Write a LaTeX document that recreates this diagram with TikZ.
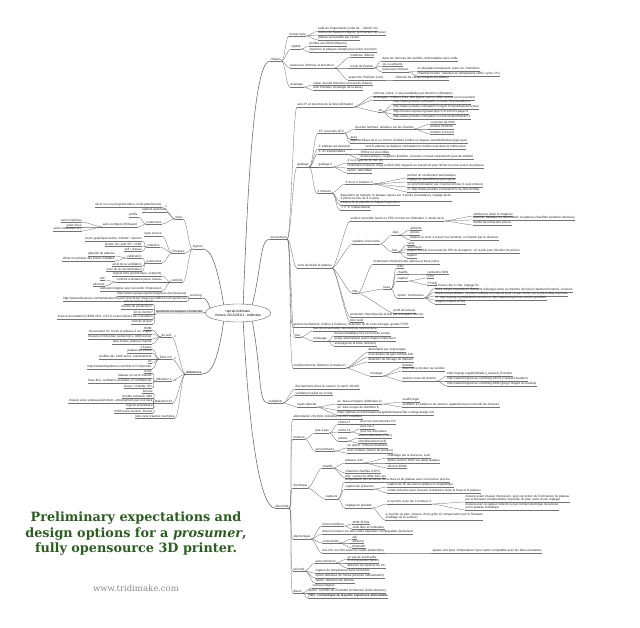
\documentclass[tikz,border=0pt]{standalone}
\usepackage{fontspec}
\setmainfont{Liberation Sans}
\newfontfamily\titlefont{DejaVu Serif}
\usetikzlibrary{shapes.geometric}
\definecolor{titlegreen}{HTML}{2A5E1E}
\newcommand\mmfont{\fontsize{3.1}{3.7}\selectfont}
\newcommand\RN[4]{\node[txt,anchor=south west] (#1) at (#2,#3) {#4}; \draw[ul] (#1.south west) -- (#1.south east);}
\newcommand\LN[4]{\node[txt,anchor=south east] (#1) at (#2,#3) {#4}; \draw[ul] (#1.south west) -- (#1.south east);}
\newcommand\RE[2]{\draw[edge] (#1.south east) .. controls +(4,0) and +(-4,0) .. (#2.south west);}
\newcommand\LE[2]{\draw[edge] (#1.south west) .. controls +(-4,0) and +(4,0) .. (#2.south east);}
\tikzset{
 txt/.style={inner xsep=0.3pt, inner ysep=0.4pt, font=\mmfont, text=black!85, align=left},
 edge/.style={draw=black!60, line width=0.3pt},
 ul/.style={draw=black!55, line width=0.3pt},
 rootedge/.style={draw=black!60, line width=0.55pt},
 redmark/.style={fill=red!80!black, inner sep=0, minimum size=1.2pt, circle},
}
\begin{document}
\begin{tikzpicture}[x=1pt,y=-1pt]
\useasboundingbox (0,0) rectangle (640,628);
\fill[white] (0,0) rectangle (640,628);

% ROOT
\node[draw=black!60, ellipse, minimum width=56pt, minimum height=18pt, inner sep=0, font=\fontsize{3.4}{4.2}\selectfont, align=center] (root) at (238,313) {reprap tridimake\\Version 2013.08.01 - tridimake};

% ================= CHASSIS
\RN{C0}{270}{61}{châssis}
\RN{C1}{289}{36}{format cube}
\RN{C1a}{318}{31}{taille de l'imprimante (cube de \textasciitilde{} 40x40 cm)}
\RN{C1b}{318}{35}{bobine de filament intégrée (à l'intérieur du cube)}
\RN{C1c}{318}{40}{plateau accessible par l'avant}
\RN{C2}{291}{49}{rigidité}
\RN{C2a}{309}{46}{profilés alu 20x20 (Misumi)}
\RN{C2b}{309}{52}{équerres et plaques d'angle pour éviter la torsion}
\RN{C3}{290}{68}{panneaux (formes) et fermeture}
\RN{C3a}{350}{57}{matériau: dibond}
\RN{C3b}{350}{68}{mode de fixation}
\RN{C3ba}{382}{61}{dans les rainures des profilés, démontables sans outils}
\RN{C3bb}{382}{66}{vis ou aimants}
\RN{C3bc}{382}{72}{panneaux frontaux}
\RN{C3bca}{417}{71}{en plexiglas transparent, porte sur charnières}
\RN{C3bcb}{417}{76}{chambre fermée: maintien en température (ABS, nylon, PC)}
\RN{C3c}{348}{80}{aspect de l'intérieur (noir)}
\RN{C3ca}{395}{80}{chemins de câbles intégrés (invisibles)}
\RN{C4}{290}{87}{éclairage}
\RN{C4a}{313}{85}{ruban de leds blanches en haut du châssis}
\RN{C4b}{313}{90}{leds frontales (éclairage de la buse)}
\RE{C0}{C1}\RE{C0}{C2}\RE{C0}{C3}\RE{C0}{C4}
\RE{C1}{C1a}\RE{C1}{C1b}\RE{C1}{C1c}
\RE{C2}{C2a}\RE{C2}{C2b}
\RE{C3}{C3a}\RE{C3}{C3b}\RE{C3}{C3c}
\RE{C3b}{C3ba}\RE{C3b}{C3bb}\RE{C3b}{C3bc}
\RE{C3bc}{C3bca}\RE{C3bc}{C3bcb}\RE{C3c}{C3ca}
\RE{C4}{C4a}\RE{C4}{C4b}

% ================= MOUVEMENT
\RN{M0}{270}{239}{mouvement}
\RN{M1}{297}{107}{axe XY et structure de la tête (Ultimaker)}
\RN{M1a}{373}{96}{schéma croisé: 2 axes parallèles par direction (Ultimaker)}
\RN{M1b}{373}{100}{avantages: moteurs fixes, tête légère, aucun câble moteur en mouvement}
\RN{M1c}{378}{112}{alt}
\RN{M1ca}{393}{104}{http://www.youtube.com/watch?v=Cw0L7RXx4wo\&hd=1}
\RN{M1cb}{393}{109}{http://www.youtube.com/watch?v=4jyXrTGlVjs\&feature=fvwrel}
\RN{M1cc}{393}{114}{http://forums.reprap.org/read.php?178,126703,page=3}
\RN{M1cd}{393}{119}{http://www.youtube.com/watch?v=Lb7hsKr6mKE\&NR=1}
\RE{M1}{M1a}\RE{M1}{M1b}\RE{M1}{M1c}
\RE{M1c}{M1ca}\RE{M1c}{M1cb}\RE{M1c}{M1cc}\RE{M1c}{M1cd}

\RN{M2}{297}{167}{guidage}
\RN{M2a}{318}{133}{XY: courroies GT2}
\RN{M2aa}{355}{129}{boucles fermées, tendeurs sur les chariots}
\RN{M2aaa}{430}{124}{courroies de 6mm}
\RN{M2aab}{430}{129}{poulies 20 dents}
\RN{M2aac}{430}{134}{tendeur à ressort}
\RN{M2ab}{350}{139}{axes}
\RN{M2ac}{350}{143}{tiges rectifiées de 8 ou 10 mm, douilles à billes ou bagues autolubrifiantes (type igus)}
\RN{M2b}{318}{149}{Z: plateau qui descend}
\RN{M2ba}{365}{149}{seul le plateau se déplace verticalement, la tête reste dans le même plan}
\RN{M2c}{318}{154}{Z: vis trapézoïdales}
\RN{M2ca}{360}{154}{TR8x2 ou vis à billes}
\RN{M2cb}{360}{159}{écrous anti-jeu, coupleurs flexibles, vis tenue en haut uniquement (pas de wobble)}
\RN{M2d}{318}{167}{guidage Z}
\RN{M2da}{347}{163}{2 ou 4 tiges de 12 mm (Z)}
\RN{M2db}{347}{168}{roulements linéaires longs (LM12LUU) espacés au maximum pour limiter le porte-à-faux du plateau}
\RN{M2dc}{347}{173}{option: rails MGN}
\RN{M2e}{317}{193}{3 moteurs}
\RN{M2ea}{345}{184}{3 vis et 3 moteurs Z}
\RN{M2eaa}{407}{178}{permet un nivellement automatique}
\RN{M2eab}{407}{182}{réglage du parallélisme par logiciel}
\RN{M2eac}{407}{187}{ou synchronisation par courroie fermée (1 seul moteur)}
\RN{M2ead}{407}{192}{cf. http://www.youtube.com/watch?v=nLJzAL9V2Wg}
\RN{M2eb}{340}{201}{disposition en triangle: le plateau repose sur 3 points (isostatique), réglage facile\\3 points au lieu de 4 ou plus}
\RN{M2ec}{340}{205}{mesure de la planéité à chaque impression}
\RN{M2ed}{340}{210}{-> 3 "Z" indépendants}
\RE{M2}{M2a}\RE{M2}{M2b}\RE{M2}{M2c}\RE{M2}{M2d}\RE{M2}{M2e}
\RE{M2a}{M2aa}\RE{M2a}{M2ab}\RE{M2a}{M2ac}
\RE{M2aa}{M2aaa}\RE{M2aa}{M2aab}\RE{M2aa}{M2aac}
\RE{M2b}{M2ba}\RE{M2c}{M2ca}\RE{M2c}{M2cb}
\RE{M2d}{M2da}\RE{M2d}{M2db}\RE{M2d}{M2dc}
\RE{M2e}{M2ea}\RE{M2e}{M2eb}\RE{M2e}{M2ec}\RE{M2e}{M2ed}
\RE{M2ea}{M2eaa}\RE{M2ea}{M2eab}\RE{M2ea}{M2eac}\RE{M2ea}{M2ead}

\RN{M3}{297}{268}{zone de dépôt et plateau}
\RN{M3a}{350}{221}{surface amovible (verre ou PEI) comme sur Ultimaker 2, étude de la}
\RN{M3aa}{473}{216}{adhérence selon le matériau}
\RN{M3ab}{473}{220}{planéité, dilatation et déformation du plateau chauffant (isolation dessous)}
\RN{M3ac}{473}{225}{facilité de retrait des pièces}
\RN{M3b}{352}{244}{système d'accroche}
\RN{M3ba}{392}{235}{clips}
\RN{M3baa}{410}{230}{aimants}
\RN{M3bab}{410}{235}{pinces}
\RN{M3bac}{410}{240}{plaque en acier à ressort sur aimants, ou fixation par le dessous}
\RN{M3bb}{392}{252}{bac}
\RN{M3bba}{407}{245}{verre}
\RN{M3bbb}{407}{249}{aluminium}
\RN{M3bbc}{407}{253}{plaque flexible recouverte de PEI ou de kapton: on la plie pour décoller les pièces}
\RN{M3bbd}{407}{258}{kapton}
\RN{M3c}{352}{293}{tête}
\RN{M3ca}{373}{264}{écartement minimal entre plateau et buse (zéro)}
\RN{M3cb}{383}{289}{buse}
\RN{M3cba}{397}{268}{E3D}
\RN{M3cbb}{397}{274}{chauffe}
\RN{M3cbba}{427}{274}{cartouche 40W}
\RN{M3cbc}{397}{281}{capteur}
\RN{M3cbca}{427}{278}{CTN}
\RN{M3cbcb}{427}{285}{PT100}
\RN{M3cbd}{397}{298}{option: multi-buses}
\RN{M3cbda}{435}{288}{2 buses côte à côte, réglage fin}
\RN{M3cbdb}{435}{292}{buse unique et plusieurs filaments mélangés dans la chambre de fusion (diamond hotend), couleurs}
\RN{M3cbdc}{435}{296}{buses escamotables: la buse inutilisée est relevée pour ne pas frotter sur la pièce déjà imprimée}
\RN{M3cbdd}{435}{300}{cf. http://reprap.org/wiki/Multi-extruder et http://www.thingiverse.com/thing:29846}
\RN{M3cbde}{435}{304}{support soluble (PVA)}
\RN{M3cc}{393}{313}{profil de la buse}
\RN{M3d}{350}{317}{protection thermique de la tête par une gaine silicone}
\RN{M3e}{350}{322}{bloc isolé}
\RE{M3}{M3a}\RE{M3}{M3b}\RE{M3}{M3c}\RE{M3}{M3d}\RE{M3}{M3e}
\RE{M3a}{M3aa}\RE{M3a}{M3ab}\RE{M3a}{M3ac}
\RE{M3b}{M3ba}\RE{M3b}{M3bb}
\RE{M3ba}{M3baa}\RE{M3ba}{M3bab}\RE{M3ba}{M3bac}
\RE{M3bb}{M3bba}\RE{M3bb}{M3bbb}\RE{M3bb}{M3bbc}\RE{M3bb}{M3bbd}
\RE{M3c}{M3ca}\RE{M3c}{M3cb}\RE{M3c}{M3cc}
\RE{M3cb}{M3cba}\RE{M3cb}{M3cbb}\RE{M3cb}{M3cbc}\RE{M3cb}{M3cbd}
\RE{M3cbb}{M3cbba}\RE{M3cbc}{M3cbca}\RE{M3cbc}{M3cbcb}
\RE{M3cbd}{M3cbda}\RE{M3cbd}{M3cbdb}\RE{M3cbd}{M3cbdc}\RE{M3cbd}{M3cbdd}\RE{M3cbd}{M3cbde}

\RN{M4}{293}{327}{gestion du filament: bobine à l'intérieur, détection de fin et de blocage, guides PTFE}
\RN{M5}{295}{337}{bac}
\RN{M5a}{313}{331}{bac de récupération des déchets sous la buse}
\RN{M5b}{313}{341}{nettoyage}
\RN{M5ba}{334}{336}{brosse métallique fixe en bout de course}
\RN{M5bb}{334}{341}{purge automatique avant chaque impression}
\RN{M5bc}{334}{346}{essuyage de la buse (silicone)}
\RE{M5}{M5a}\RE{M5}{M5b}\RE{M5b}{M5ba}\RE{M5b}{M5bb}\RE{M5b}{M5bc}

\RN{M7}{293}{368}{entraînement du filament ("extrudeur")}
\RN{M7a}{368}{352}{démultiplié par engrenages}
\RN{M7b}{368}{357}{roue dentée de type hobbed bolt}
\RN{M7c}{368}{362}{détection de blocage du filament}
\RN{M7d}{370}{376}{montage}
\RN{M7da}{402}{367}{bowden}
\RN{M7db}{402}{371}{direct drive (moteur sur la tête)}
\RN{M7dc}{402}{381}{options roues de tension}
\RN{M7dca}{447}{376}{http://reprap.org/wiki/Wade's\_Geared\_Extruder}
\RN{M7dcb}{447}{381}{http://www.thingiverse.com/thing:18379 (compact bowden)}
\RN{M7dcc}{447}{386}{http://www.thingiverse.com/thing:4305 (greg's hinged accessible)}
\RE{M7}{M7a}\RE{M7}{M7b}\RE{M7}{M7c}\RE{M7}{M7d}
\RE{M7d}{M7da}\RE{M7d}{M7db}\RE{M7d}{M7dc}
\RE{M7dc}{M7dca}\RE{M7dc}{M7dcb}\RE{M7dc}{M7dcc}

\RE{M0}{M1}\RE{M0}{M2}\RE{M0}{M3}\RE{M0}{M4}\RE{M0}{M5}\RE{M0}{M7}

% ================= VENTILATION
\RN{V0}{268}{403}{ventilation}
\RN{V1}{295}{389}{flux laminaire dans le caisson (2 ventil. 40x10)}
\RN{V2}{295}{395}{ventilateur radial sur la tête}
\RN{V3}{297}{407}{tuyau déporté}
\RN{V3a}{337}{404}{ex: buse annulaire (Ultimaker 2)}
\RN{V3aa}{402}{402}{souffle léger}
\RN{V3ab}{402}{407}{soufflerie à l'extérieur du caisson, également pour refroidir les moteurs}
\RN{V3b}{337}{410}{ex: tube souple de diamètre 8}
\RN{V3c}{337}{415}{https://github.com/tridimake/reprap/blob/master/fan-cooling-design.md}
\RE{V0}{V1}\RE{V0}{V2}\RE{V0}{V3}
\RE{V3}{V3a}\RE{V3}{V3b}\RE{V3}{V3c}\RE{V3a}{V3aa}\RE{V3a}{V3ab}

% ================= ELECTRICITE
\RN{E0}{275}{508}{électricité}
\RN{E1}{293}{419}{alimentation 24V (bloc industriel ou ATX modifiée)}
\RN{E2}{293}{439}{moteurs}
\RN{E2a}{315}{433}{pas à pas}
\RN{E2aa}{338}{424}{nema 17}
\RN{E2aaa}{360}{424}{pour les mouvements X/Y}
\RN{E2ab}{338}{432}{nema 14}
\RN{E2aba}{360}{429}{pour les Z}
\RN{E2abb}{360}{434}{pour les extrudeurs}
\RN{E2ac}{338}{441}{pilotes}
\RN{E2aca}{358}{438}{drivers silencieux (TMC)}
\RN{E2acb}{358}{443}{refroidissement actif}
\RN{E2b}{315}{451}{servomoteurs}
\RN{E2ba}{347}{448}{en option: moteurs brushless}
\RN{E2bb}{347}{453}{avec codeurs (retour de position)}
\RE{E2}{E2a}\RE{E2}{E2b}
\RE{E2a}{E2aa}\RE{E2a}{E2ab}\RE{E2a}{E2ac}
\RE{E2aa}{E2aaa}\RE{E2ab}{E2aba}\RE{E2ab}{E2abb}\RE{E2ac}{E2aca}\RE{E2ac}{E2acb}
\RE{E2b}{E2ba}\RE{E2b}{E2bb}

\RN{E3}{293}{488}{thermique}
\RN{E3a}{322}{468}{chauffe}
\RN{E3aa}{345}{463}{plateau: 24V}
\RN{E3aaa}{387}{458}{chauffage par le dessous, isolé}
\RN{E3aab}{387}{463}{option secteur 220V via relais statique}
\RN{E3aac}{387}{468}{silicone 400W}
\RN{E3ab}{345}{473}{chambre chauffée à 50°C}
\RN{E3ac}{345}{478}{tête: cartouche 40W, bloc alu}
\RN{E3b}{325}{499}{capteurs}
\RN{E3ba}{345}{482}{température de l'enceinte, de la buse et du plateau avec une lecture précise}
\RN{E3bb}{345}{489}{capteur de présence}
\RN{E3bba}{387}{487}{capteur de fin de course optique ou magnétique}
\RN{E3bbb}{387}{493}{sonde inductive pour mesurer la distance entre la buse et le plateau}
\RN{E3bc}{345}{508}{réglage de planéité}
\RN{E3bca}{387}{504}{à 3 points, avec les 3 moteurs Z}
\RN{E3bcaa}{465}{502}{mesure avant chaque impression, puis correction de l'inclinaison du plateau\\par le firmware (compensation logicielle du plan, sans vis de réglage)}
\RN{E3bcab}{465}{510}{mesure avec le capteur inductif ou par contact électrique de la buse\\sur le plateau métallique}
\RN{E3bcb}{385}{520}{à 4 points ou plus: mesure d'une grille et compensation par le firmware\\(maillage de la surface)}
\RE{E3}{E3a}\RE{E3}{E3b}
\RE{E3a}{E3aa}\RE{E3a}{E3ab}\RE{E3a}{E3ac}
\RE{E3aa}{E3aaa}\RE{E3aa}{E3aab}\RE{E3aa}{E3aac}
\RE{E3b}{E3ba}\RE{E3b}{E3bb}\RE{E3b}{E3bc}
\RE{E3bb}{E3bba}\RE{E3bb}{E3bbb}
\RE{E3bc}{E3bca}\RE{E3bc}{E3bcb}\RE{E3bca}{E3bcaa}\RE{E3bca}{E3bcab}

\RN{E4}{293}{539}{électronique}
\RN{E4a}{322}{526}{microcontrôleur}
\RN{E4aa}{352}{524}{ARM 32 bits}
\RN{E4ab}{352}{529}{carte libre et modulaire}
\RN{E4b}{322}{534}{drivers moteurs sur des cartes séparées, remplaçables facilement}
\RN{E4c}{322}{543}{connectivité}
\RN{E4ca}{352}{539}{wifi}
\RN{E4cb}{352}{543}{ethernet}
\RN{E4cc}{352}{548}{bluetooth}
\RN{E4d}{322}{553}{bus I2C ou CAN entre les cartes (extensible)}
\RN{E4da}{432}{553}{ajouter une ligne "température" pour rester compatible avec les têtes existantes}
\RE{E4}{E4a}\RE{E4}{E4b}\RE{E4}{E4c}\RE{E4}{E4d}
\RE{E4a}{E4aa}\RE{E4a}{E4ab}\RE{E4c}{E4ca}\RE{E4c}{E4cb}\RE{E4c}{E4cc}\RE{E4d}{E4da}

\RN{E5}{293}{571}{sécurité}
\RN{E5a}{315}{563}{auto extinction}
\RN{E5aa}{347}{559}{en cas de surchauffe}
\RN{E5ab}{347}{563}{fin d'impression (timer)}
\RN{E5ac}{347}{568}{absence de réponse du PC}
\RN{E5b}{315}{573}{capteur de température dans l'enceinte}
\RN{E5c}{315}{578}{option détecteur de fumée (arrêt de l'alimentation)}
\RN{E5d}{315}{583}{option: détecteur de flamme}
\RE{E5}{E5a}\RE{E5}{E5b}\RE{E5}{E5c}\RE{E5}{E5d}
\RE{E5a}{E5aa}\RE{E5a}{E5ab}\RE{E5a}{E5ac}

\RN{E6}{293}{593}{divers}
\RN{E6a}{312}{588}{caméra intégrée}
\RN{E6b}{308}{593}{option: contrôle de l'humidité du filament (boîte étanche)}
\node[txt,anchor=south west,font=\mmfont\bfseries] (E6c) at (308,598) {[TR] : connectique de la partie supérieure démontable};
\draw[ul] (E6c.south west) -- (E6c.south east);
\RE{E6}{E6a}\RE{E6}{E6b}\RE{E6}{E6c}

\RE{E0}{E1}\RE{E0}{E2}\RE{E0}{E3}\RE{E0}{E4}\RE{E0}{E5}\RE{E0}{E6}

% ================= LEFT SIDE: LOGICIEL
\LN{L0}{203}{249}{logiciel}
\LN{L1}{183}{219}{slicer}
\LN{L1a}{162}{207}{slic3r ou cura (logiciels libres, multi-plateformes)}
\LN{L1b}{167}{212}{options avancées}
\LN{L1c}{162}{224}{extensions}
\LN{L1ca}{138}{217}{profils}
\LN{L1cb}{138}{227}{auto-configuré (firmware)}
\LN{L1cba}{82}{222}{selon matériau}
\LN{L1cbb}{82}{227}{selon buse}
\LN{L1cbc}{82}{231}{selon calibration (1.)}
\LE{L1}{L1a}\LE{L1}{L1b}\LE{L1}{L1c}
\LE{L1c}{L1ca}\LE{L1c}{L1cb}\LE{L1cb}{L1cba}\LE{L1cb}{L1cbb}\LE{L1cb}{L1cbc}
\LN{L2}{185}{253}{firmware}
\LN{L2a}{162}{236}{open source}
\LN{L2b}{160}{247}{interface}
\LN{L2ba}{142}{241}{écran graphique tactile, molette + bouton}
\LN{L2bb}{142}{246}{lecteur de carte SD + USB}
\LN{L2bc}{142}{251}{wifi / réseau}
\LN{L2c}{162}{263}{extensions}
\LN{L2ca}{142}{258}{calibration}
\LN{L2caa}{115}{256}{planéité du plateau}
\LN{L2cab}{115}{261}{offset et symétrie des buses multiples}
\LN{L2cb}{142}{266}{arrêt de la ventilation}
\LN{L2cc}{142}{271}{suivi de la consommation}
\LE{L2}{L2a}\LE{L2}{L2b}\LE{L2}{L2c}
\LE{L2b}{L2ba}\LE{L2b}{L2bb}\LE{L2b}{L2bc}
\LE{L2c}{L2ca}\LE{L2c}{L2cb}\LE{L2c}{L2cc}\LE{L2ca}{L2caa}\LE{L2ca}{L2cab}
\LN{L3}{183}{282}{contrôle}
\LN{L3a}{162}{276}{logiciel hôte (pronterface, octoprint)}
\LN{L3b}{162}{282}{contrôle à distance par le réseau}
\LN{L3ba}{105}{280}{wifi}
\LN{L3bb}{105}{286}{ethernet}
\LN{L3c}{162}{291}{webcam intégrée pour surveiller l'impression}
\LE{L3}{L3a}\LE{L3}{L3b}\LE{L3}{L3c}\LE{L3b}{L3ba}\LE{L3b}{L3bb}
\LE{L0}{L1}\LE{L0}{L2}\LE{L0}{L3}

% SOURCING
\LN{S0}{202}{298}{sourcing}
\LN{S1}{187}{296}{http://www.reprap.org/wiki/Suppliers (fournisseurs)}
\LN{S2}{187}{301}{http://www.aliexpress.com/wholesale?SearchText=linear+bearing+LM8UU+rod+guide+rail}
\LE{S0}{S1}\LE{S0}{S2}

% QUESTIONS
\node[txt,anchor=south east,fill=black!15] (Q0) at (203,314) {questions en suspens / à trancher};
\LN{Q1}{153}{304}{prix de revient cible?}
\LN{Q2}{153}{309}{volume de production?}
\LN{Q3}{153}{314}{kit ou monté?}
\LN{Q4}{153}{319}{licence du matériel (CERN OHL, GPL?) et des fichiers de conception}
\LN{Q5}{153}{324}{nom du projet?}
\LE{Q0}{Q1}\LE{Q0}{Q2}\LE{Q0}{Q3}\LE{Q0}{Q4}\LE{Q0}{Q5}

% REFERENCES
\node[txt,anchor=south east,font=\mmfont\bfseries] (R0) at (202,374) {références};
\draw[ul] (R0.south west) -- (R0.south east);
\LN{R1}{172}{337}{de wolf}
\LN{R1a}{152}{330}{BOM}
\LN{R1b}{152}{334}{mouvement XY croisé et plateau Z sur 4 tiges}
\LN{R1c}{152}{339}{chassis en tôle pliée (version pro, 3000 euros)}
\LN{R1d}{152}{344}{deux buses, plateau chauffé}
\LN{R2}{172}{359}{Felix 3.0}
\LN{R2a}{152}{349}{2 buses}
\LN{R2b}{152}{353}{plateau de 25x20}
\LN{R2c}{152}{359}{profilés alu, 1300 euros, entraînement}
\LN{R2d}{152}{363}{kit}
\LN{R2e}{152}{369}{http://www.felixprinters.com/felix-3-0-3d-printer}
\LN{R3}{172}{381}{Ultimaker 2}
\LN{R3a}{152}{373}{boîte}
\LN{R3b}{152}{378}{plateau en verre chauffé}
\LN{R3c}{152}{383}{buse fine, ventilation annulaire (2 ventilateurs)}
\LN{R3d}{152}{388}{écran + molette, SD}
\LN{R4}{173}{403}{Makerbot 2X}
\LN{R4a}{153}{393}{fermée}
\LN{R4b}{153}{398}{double extrusion ABS}
\LN{R4c}{153}{403}{châssis acier, plateau aluminium, entraînement par courroies}
\LN{R4d}{153}{408}{logiciel propriétaire}
\LN{R4e}{153}{413}{2500 euros environ, fermée}
\LN{R5}{175}{418}{liens vers d'autres machines}
\LE{R0}{R1}\LE{R0}{R2}\LE{R0}{R3}\LE{R0}{R4}\LE{R0}{R5}
\LE{R1}{R1a}\LE{R1}{R1b}\LE{R1}{R1c}\LE{R1}{R1d}
\LE{R2}{R2a}\LE{R2}{R2b}\LE{R2}{R2c}\LE{R2}{R2d}\LE{R2}{R2e}
\LE{R3}{R3a}\LE{R3}{R3b}\LE{R3}{R3c}\LE{R3}{R3d}
\LE{R4}{R4a}\LE{R4}{R4b}\LE{R4}{R4c}\LE{R4}{R4d}\LE{R4}{R4e}
\node[redmark] (rm1) at (166,206) {};
\node[redmark] (rm2) at (175,336) {};
\node[redmark] (rm3) at (175,358) {};
\node[redmark] (rm4) at (175,380) {};

% ROOT EDGES
\draw[rootedge] (root.60) .. controls (249,150) and (256,61) .. (C0.south west);
\draw[rootedge] (root.30) .. controls (262,265) and (260,239) .. (M0.south west);
\draw[rootedge] (root.-30) .. controls (262,375) and (258,403) .. (V0.south west);
\draw[rootedge] (root.-60) .. controls (250,450) and (262,508) .. (E0.south west);
\draw[rootedge] (root.150) .. controls (218,270) and (212,249) .. (L0.south east);
\draw[rootedge] (root.170) .. controls (208,302) and (206,298) .. (S0.south east);
\draw[rootedge] (root.west) -- (Q0.east);
\draw[rootedge] (root.-150) .. controls (218,360) and (212,374) .. (R0.south east);

% TITLE
\node[font=\titlefont\bfseries\fontsize{12.8}{15.5}\selectfont, text=titlegreen, align=center] (title) at (136,534) {Preliminary expectations and\\design options for a \textit{prosumer},\\fully opensource 3D printer.};
\node[font=\titlefont\fontsize{8.5}{10}\selectfont, text=black!45] (url) at (136,588) {www.tridimake.com};
\end{tikzpicture}
\end{document}
